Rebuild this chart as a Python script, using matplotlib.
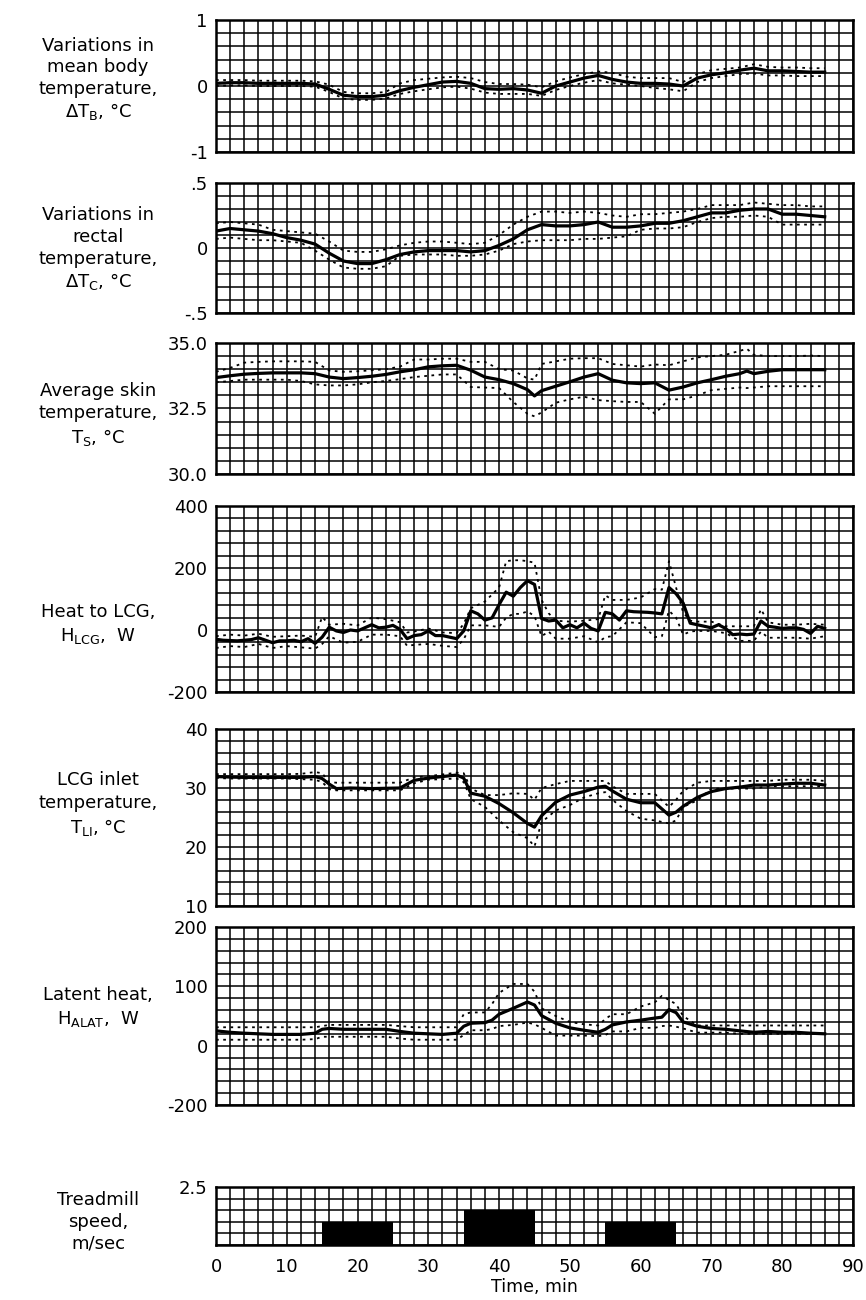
import numpy as np
import matplotlib
matplotlib.use("Agg")
import matplotlib.pyplot as plt

# ---------------- data ----------------
t1 = [0,2,4,6,8,10,12,14,16,18,20,22,24,26,28,30,32,34,36,38,40,42,44,46,48,50,52,54,56,58,60,62,64,66,68,70,72,74,76,78,80,82,84,86]
m1 = [0.04,0.05,0.05,0.04,0.04,0.04,0.04,0.03,-0.05,-0.14,-0.16,-0.16,-0.14,-0.07,-0.02,0.02,0.06,0.07,0.04,-0.04,-0.05,-0.04,-0.06,-0.11,0.0,0.06,0.12,0.16,0.10,0.06,0.04,0.04,0.03,0.0,0.12,0.17,0.20,0.24,0.27,0.23,0.23,0.22,0.21,0.21]
u1 = [0.09,0.09,0.09,0.08,0.08,0.08,0.08,0.07,0.02,-0.09,-0.11,-0.11,-0.09,0.04,0.09,0.11,0.13,0.14,0.12,0.06,0.03,0.03,0.02,-0.02,0.07,0.13,0.18,0.22,0.20,0.14,0.12,0.12,0.12,0.06,0.18,0.24,0.26,0.28,0.33,0.29,0.28,0.28,0.27,0.27]
l1 = [0.00,0.01,0.01,0.00,0.00,0.00,0.00,-0.01,-0.09,-0.19,-0.21,-0.21,-0.19,-0.12,-0.08,-0.05,-0.02,-0.01,-0.04,-0.10,-0.12,-0.12,-0.12,-0.15,-0.06,0.00,0.05,0.09,0.04,0.02,0.00,-0.03,-0.05,-0.08,0.06,0.12,0.15,0.18,0.19,0.16,0.16,0.15,0.15,0.15]

t2 = t1
m2 = [0.13,0.15,0.14,0.13,0.11,0.08,0.06,0.03,-0.04,-0.10,-0.12,-0.12,-0.09,-0.05,-0.03,-0.02,-0.02,-0.02,-0.03,-0.02,0.02,0.07,0.14,0.18,0.17,0.17,0.18,0.20,0.16,0.16,0.17,0.19,0.19,0.21,0.24,0.27,0.27,0.29,0.30,0.30,0.26,0.26,0.25,0.24]
u2 = [0.19,0.20,0.19,0.18,0.14,0.13,0.12,0.11,0.05,-0.02,-0.03,-0.03,-0.01,0.02,0.04,0.05,0.05,0.04,0.03,0.04,0.10,0.18,0.24,0.28,0.28,0.27,0.28,0.27,0.25,0.24,0.26,0.26,0.27,0.28,0.30,0.33,0.33,0.33,0.35,0.34,0.33,0.33,0.32,0.32]
l2 = [0.07,0.08,0.07,0.06,0.06,0.05,0.04,-0.02,-0.09,-0.15,-0.16,-0.16,-0.14,-0.06,-0.05,-0.05,-0.05,-0.06,-0.06,-0.05,-0.02,0.03,0.05,0.06,0.06,0.06,0.07,0.07,0.08,0.09,0.14,0.15,0.15,0.16,0.20,0.23,0.24,0.24,0.25,0.24,0.18,0.18,0.18,0.18]

t3 = [0,2,4,6,8,10,12,14,16,18,20,22,24,26,28,30,32,34,36,38,40,42,44,45,46,48,50,52,54,56,58,60,62,64,66,68,70,72,74,75,76,78,80,82,84,86]
m3 = [33.68,33.75,33.81,33.84,33.86,33.86,33.86,33.83,33.70,33.64,33.68,33.73,33.80,33.90,33.98,34.09,34.13,34.15,33.96,33.70,33.60,33.45,33.22,32.98,33.18,33.35,33.52,33.70,33.83,33.58,33.48,33.45,33.48,33.20,33.32,33.48,33.60,33.73,33.83,33.93,33.83,33.92,33.98,33.98,33.98,33.98]
u3 = [33.90,34.05,34.25,34.28,34.30,34.30,34.30,34.28,33.95,33.90,33.92,33.96,34.00,34.10,34.37,34.37,34.40,34.40,34.28,34.28,34.00,33.95,33.65,33.60,34.20,34.30,34.40,34.42,34.42,34.20,34.15,34.10,34.18,34.15,34.30,34.45,34.50,34.55,34.70,34.78,34.55,34.50,34.50,34.50,34.52,34.50]
l3 = [33.50,33.55,33.60,33.60,33.60,33.60,33.55,33.42,33.38,33.38,33.42,33.50,33.55,33.62,33.70,33.75,33.80,33.80,33.32,33.30,33.28,32.75,32.30,32.20,32.35,32.72,32.85,32.95,32.82,32.78,32.75,32.75,32.30,32.85,32.85,33.00,33.20,33.25,33.30,33.28,33.30,33.35,33.35,33.35,33.35,33.35]

t4 = list(range(0, 87))
m4 = [-30,-33,-34,-35,-33,-31,-25,-33,-41,-35,-35,-33,-38,-28,-43,-23,9,-3,-8,0,-3,7,17,7,9,15,2,-28,-18,-15,-3,-18,-18,-23,-28,-3,62,52,32,39,82,122,109,137,159,147,37,29,32,7,17,7,22,5,-3,57,52,32,62,59,58,57,55,52,137,117,87,22,17,12,7,17,5,-15,-13,-15,-13,29,12,9,5,7,7,2,-11,12,5]
t4s = [0,2,4,6,8,10,12,14,15,16,18,20,22,24,26,27,28,30,32,34,35,36,38,40,41,42,43,44,45,46,47,48,50,52,54,55,56,58,60,62,63,64,65,66,67,68,70,72,74,76,77,78,80,82,84,86]
u4 = [-20,-15,-18,-12,-22,-20,-18,-22,42,17,20,15,40,35,25,-8,-5,5,-8,-10,20,70,92,137,222,225,225,222,217,97,54,30,27,30,35,112,97,97,105,132,130,222,137,57,30,27,27,12,12,12,67,25,17,17,20,17]
l4 = [-58,-52,-55,-45,-58,-52,-56,-60,-45,-20,-41,-38,-15,-15,-20,-51,-48,-45,-51,-55,-30,15,15,10,40,52,52,60,45,-20,-5,-28,-28,-20,-40,-23,-20,25,22,-23,-20,62,40,-15,-5,-3,-3,-10,-35,-35,-5,-25,-25,-25,-28,-20]

t5 = [0,2,4,6,8,10,12,14,15,16,17,19,22,26,28,30,32,34,35,36,38,40,42,44,45,46,48,50,52,54,55,56,58,60,62,64,65,66,68,70,72,74,76,78,80,82,84,86]
m5 = [31.94,31.85,31.8,31.8,31.8,31.8,31.8,31.94,31.6,30.66,29.9,30.0,29.9,30.0,31.3,31.68,31.94,32.2,31.68,29.13,28.6,27.35,25.8,24.0,23.37,25.3,27.6,28.8,29.4,30.15,30.3,29.5,28.1,27.5,27.5,25.4,25.9,26.9,28.4,29.4,29.9,30.15,30.5,30.5,30.66,30.8,30.8,30.5]
u5 = [32.35,32.35,32.35,32.35,32.35,32.35,32.4,32.7,32.5,31.0,30.9,30.9,30.9,30.9,31.8,32.0,32.3,32.6,32.5,29.9,28.8,28.8,29.1,29.0,28.0,30.0,30.66,31.2,31.2,31.2,31.2,30.3,29.0,29.0,29.0,26.8,28.0,29.5,30.9,31.2,31.2,31.2,31.2,31.2,31.4,31.4,31.4,31.2]
l5 = [31.7,31.6,31.6,31.6,31.6,31.6,31.5,31.4,31.0,29.8,29.6,29.6,29.6,29.6,30.8,31.4,31.5,31.6,31.0,28.1,26.8,24.5,22.5,21.5,20.1,24.2,26.2,27.1,28.4,29.1,29.3,28.0,26.1,24.8,24.5,24.0,24.5,26.8,27.9,29.9,29.9,29.9,29.9,30.3,30.3,30.3,30.3,30.3]

t6 = [0,2,4,6,8,10,12,14,15,16,18,20,22,24,26,28,30,32,34,35,36,38,39,40,42,44,45,46,48,50,52,54,55,56,58,60,62,63,64,65,66,68,70,72,74,76,78,80,82,84,86]
m6 = [25,22.5,21,20,19,19,19,21,27.6,29,27.6,27.6,27.6,27.6,24,21,20,19,21,32.7,37.8,38.8,43,53,63,73.6,68.5,50.6,37.8,30,26,22.5,27.6,35,40,43,46.5,48,60.8,55.7,40,32.7,29,27.6,25,22.5,24,22.5,22.5,21,20]
u6 = [31,31,31,31,31,31,31,31,33,35,35,35,35,35,33,31,31,31,31,53,56,56,70,89,104,104,91,63,50,40,36,34,45,53,53,66,73,84,77,70,50,34,34,34,34,34,34,34,34,34,34]
l6 = [10,10,10,10,10,10,10,11,15,15,15,15,15,15,12,10,10,10,10,18,26,26,28,33,35,39,36,30,17,17,17,16,18,24,24,30,30,33,34,32,29,22,22,22,20,20,20,20,20,20,20]

tread_start = [15, 35, 55]
tread_dur = [10, 10, 10]
tread_speed = [1.0, 1.5, 1.0]

x_ticks = [0, 10, 20, 30, 40, 50, 60, 70, 80, 90]

panels = [
    dict(t=t1, m=m1, u=u1, l=l1, tu=t1, ylim=(-1, 1), step=0.2,
         ticks=[-1, 0, 1], labels=["-1", "0", "1"],
         text=["Variations in", "mean body", "temperature,", r"$\Delta$T$_\mathregular{B}$, °C"]),
    dict(t=t2, m=m2, u=u2, l=l2, tu=t2, ylim=(-0.5, 0.5), step=0.1,
         ticks=[-0.5, 0, 0.5], labels=["-.5", "0", ".5"],
         text=["Variations in", "rectal", "temperature,", r"$\Delta$T$_\mathregular{C}$, °C"]),
    dict(t=t3, m=m3, u=u3, l=l3, tu=t3, ylim=(30, 35), step=0.5,
         ticks=[30, 32.5, 35], labels=["30.0", "32.5", "35.0"],
         text=["Average skin", "temperature,", r"T$_\mathregular{S}$, °C"]),
    dict(t=t4, m=m4, u=u4, l=l4, tu=t4s, ylim=(-200, 400), step=40,
         ticks=[-200, 0, 200, 400], labels=["-200", "0", "200", "400"],
         text=["Heat to LCG,", r"H$_\mathregular{LCG}$,  W"]),
    dict(t=t5, m=m5, u=u5, l=l5, tu=t5, ylim=(10, 40), step=2,
         ticks=[10, 20, 30, 40], labels=["10", "20", "30", "40"],
         text=["LCG inlet", "temperature,", r"T$_\mathregular{LI}$, °C"]),
    dict(t=t6, m=m6, u=u6, l=l6, tu=t6, ylim=(-100, 200), step=20,
         ticks=[-100, 0, 100, 200], labels=["-200", "0", "100", "200"],
         text=["Latent heat,", r"H$_\mathregular{ALAT}$,  W"]),
]

# pixel layout (top, bottom) of each panel
W, H = 866, 1300
left_px, right_px = 216, 853
rows_px = [(20, 152), (183, 313), (343, 474), (506, 692), (729, 906), (927, 1105), (1187, 1245)]
text_y = [[46, 67, 89, 112], [215, 237, 259, 282], [391, 413, 437], [612, 636],
          [780, 803, 827], [995, 1019], [1200, 1222, 1244]]

plt.rcParams['font.family'] = ['DejaVu Sans']
plt.rcParams['mathtext.fontset'] = 'dejavusans'

fig = plt.figure(figsize=(W / 100, H / 100), dpi=100)
fig.patch.set_facecolor('white')

GRID_LW = 1.1
FS_TICK = 13
FS_LAB = 13


def make_ax(top, bot):
    return fig.add_axes([left_px / W, 1 - bot / H, (right_px - left_px) / W, (bot - top) / H])


def style(ax, ylim, step):
    ax.set_xlim(0, 90)
    ax.set_ylim(*ylim)
    ax.set_xticks(np.arange(0, 90.1, 2), minor=True)
    ax.set_yticks(np.arange(ylim[0], ylim[1] + step / 2, step), minor=True)
    ax.grid(which='both', color='black', lw=GRID_LW)
    ax.set_axisbelow(True)
    for s in ax.spines.values():
        s.set_linewidth(1.8)
        s.set_color('black')
    ax.tick_params(which='both', length=0)
    ax.tick_params(axis='y', labelsize=FS_TICK, pad=6)


for i, p in enumerate(panels):
    top, bot = rows_px[i]
    ax = make_ax(top, bot)
    style(ax, p['ylim'], p['step'])
    ax.set_xticks(x_ticks)
    ax.set_xticklabels([])
    ax.set_yticks(p['ticks'])
    ax.set_yticklabels(p['labels'])
    ax.plot(p['tu'], p['u'], color='black', lw=1.3, ls=(0, (1.5, 2.5)), zorder=3)
    ax.plot(p['tu'], p['l'], color='black', lw=1.3, ls=(0, (1.5, 2.5)), zorder=3)
    ax.plot(p['t'], p['m'], color='black', lw=2.3, zorder=4, solid_joinstyle='round')
    for line, y in zip(p['text'], text_y[i]):
        fig.text(98 / W, 1 - y / H, line, ha='center', va='center', fontsize=FS_LAB)

# treadmill panel
top, bot = rows_px[6]
ax = make_ax(top, bot)
style(ax, (0, 2.5), 0.5)
ax.bar(tread_start, tread_speed, width=tread_dur, align='edge', color='black', zorder=3)
ax.set_yticks([2.5])
ax.set_yticklabels(["2.5"])
ax.set_xticks(x_ticks)
ax.set_xticklabels([str(v) for v in x_ticks], fontsize=FS_TICK)
ax.tick_params(axis='x', pad=9)
ax.set_xlabel("Time, min", fontsize=12.5, labelpad=2)
for line, y in zip(["Treadmill", "speed,", "m/sec"], text_y[6]):
    fig.text(98 / W, 1 - y / H, line, ha='center', va='center', fontsize=FS_LAB)

fig.savefig("out.png", dpi=100, facecolor='white')
